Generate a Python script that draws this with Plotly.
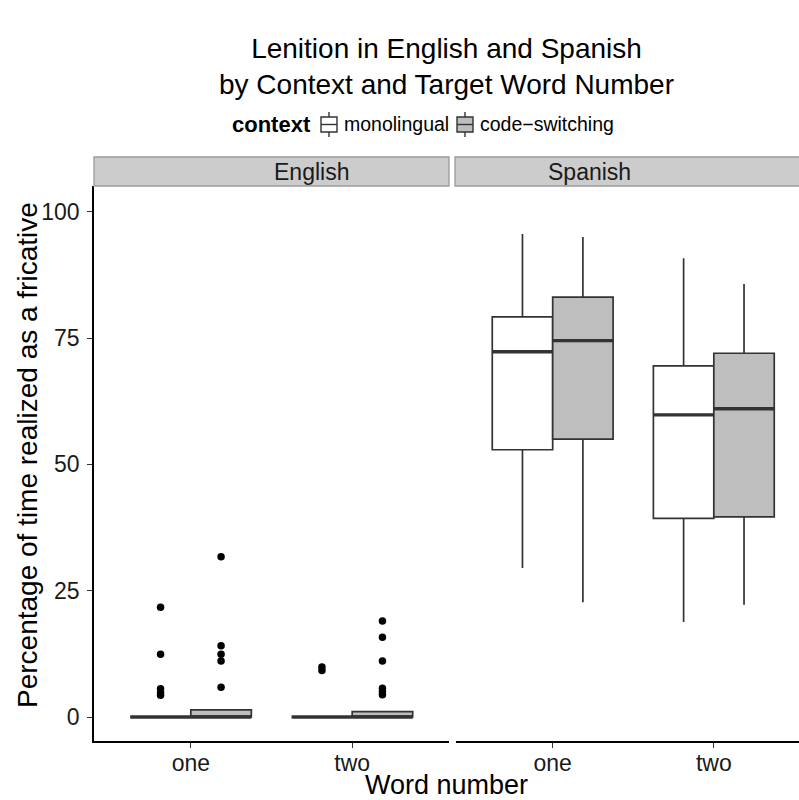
import plotly.graph_objects as go

# ---- data ----
word_numbers = ["one", "two"]
word_pos = [1, 2]
contexts = ["monolingual", "code-switching"]
context_labels = ["monolingual", "code\u2212switching"]
languages = ["English", "Spanish"]

# box stats per language -> context -> [one, two]
q1 = {
    "English": {"monolingual": [0, 0], "code-switching": [0, 0]},
    "Spanish": {"monolingual": [52.9, 39.3], "code-switching": [55.0, 39.6]},
}
median = {
    "English": {"monolingual": [0, 0], "code-switching": [0, 0]},
    "Spanish": {"monolingual": [72.3, 59.8], "code-switching": [74.5, 61.0]},
}
q3 = {
    "English": {"monolingual": [0, 0], "code-switching": [1.4, 1.05]},
    "Spanish": {"monolingual": [79.2, 69.5], "code-switching": [83.1, 72.0]},
}
lowerfence = {
    "English": {"monolingual": [0, 0], "code-switching": [0, 0]},
    "Spanish": {"monolingual": [29.5, 18.8], "code-switching": [22.7, 22.2]},
}
upperfence = {
    "English": {"monolingual": [0, 0], "code-switching": [1.4, 1.05]},
    "Spanish": {"monolingual": [95.6, 90.8], "code-switching": [95.0, 85.7]},
}
outliers = {
    "English": {
        "monolingual": {"one": [21.7, 12.4, 5.6, 4.8, 4.3], "two": [9.9, 9.2]},
        "code-switching": {"one": [31.7, 14.1, 12.4, 11.1, 5.9],
                           "two": [19.0, 15.8, 11.1, 5.7, 5.0, 4.4]},
    },
    "Spanish": {
        "monolingual": {"one": [], "two": []},
        "code-switching": {"one": [], "two": []},
    },
}

fills = {"monolingual": "#FFFFFF", "code-switching": "#BEBEBE"}
dodge = {"monolingual": -0.1875, "code-switching": 0.1875}
box_w = 0.375
line_col = "#333333"
FONT = "Liberation Sans, Arial, sans-serif"

# layout geometry (pixels)
W, H = 799, 800
L, T, B = 94, 186, 59
PW, PH = W - L, H - T - B


def px_x(px):
    return (px - L) / PW


def px_y(py):
    return 1 + (T - py) / PH


fig = go.Figure()
axes = [("x", "y"), ("x2", "y")]
for ci, lang in enumerate(languages):
    xa, ya = axes[ci]
    for ctx in contexts:
        xs = [p + dodge[ctx] for p in word_pos]
        fig.add_trace(go.Box(
            x=xs, xaxis=xa, yaxis=ya,
            q1=q1[lang][ctx], median=median[lang][ctx], q3=q3[lang][ctx],
            lowerfence=lowerfence[lang][ctx], upperfence=upperfence[lang][ctx],
            width=box_w, whiskerwidth=0,
            fillcolor=fills[ctx], line=dict(color=line_col, width=1.7),
            boxpoints=False, name=ctx, showlegend=False, hoverinfo="skip",
        ))
        mx, my = [], []
        for x, m in zip(xs, median[lang][ctx]):
            mx += [x - box_w / 2, x + box_w / 2, None]
            my += [m, m, None]
        fig.add_trace(go.Scatter(
            x=mx, y=my, xaxis=xa, yaxis=ya, mode="lines",
            line=dict(color=line_col, width=3.4),
            showlegend=False, hoverinfo="skip"))
        ox, oy = [], []
        for w, p in zip(word_numbers, word_pos):
            for v in outliers[lang][ctx][w]:
                ox.append(p + dodge[ctx])
                oy.append(v)
        if ox:
            fig.add_trace(go.Scatter(
                x=ox, y=oy, xaxis=xa, yaxis=ya, mode="markers",
                marker=dict(color="black", size=7.5),
                showlegend=False, hoverinfo="skip"))

tickfont = dict(family=FONT, size=23, color="#1a1a1a")
xcommon = dict(
    tickvals=word_pos, ticktext=word_numbers,
    showline=True, linecolor="black", linewidth=1.6,
    ticks="outside", ticklen=5, tickcolor="#333333", tickwidth=1.4,
    showgrid=False, zeroline=False, tickfont=tickfont, anchor="y",
    ticklabelstandoff=-4,
)
eng_end = px_x(449)
spa_start = px_x(456)
spa_span = 2.2 * (W - 456) / (449 - 94.5)

fig.update_layout(
    xaxis=dict(domain=[0, eng_end], range=[0.4, 2.6], **xcommon),
    xaxis2=dict(domain=[spa_start, 1.0], range=[0.4, 0.4 + spa_span], **xcommon),
    yaxis=dict(domain=[0, 1], range=[-4.75, 105.1], tickvals=[0, 25, 50, 75, 100],
               showline=True, linecolor="black", linewidth=1.6,
               ticks="outside", ticklen=5, tickcolor="#333333", tickwidth=1.4,
               showgrid=False, zeroline=False, tickfont=tickfont,
               ticklabelstandoff=3),
)

# facet strips
strip_top = px_y(157)
strips = [(px_x(94), px_x(449)), (px_x(455), px_x(812))]
strip_centers = [px_x(271.5), px_x(632.5)]
for (x0, x1), cx, lang in zip(strips, strip_centers, languages):
    fig.add_shape(type="rect", xref="paper", yref="paper", x0=x0, x1=x1,
                  y0=1.0, y1=strip_top, fillcolor="#CCCCCC",
                  line=dict(color="#9A9A9A", width=1.3), layer="above")
    fig.add_annotation(text=lang, xref="paper", yref="paper",
                       x=cx, y=(1.0 + strip_top) / 2, showarrow=False, yanchor="middle",
                       font=dict(family=FONT, size=23, color="#1a1a1a"))

# titles
fig.add_annotation(text="Lenition in English and Spanish<br>by Context and Target Word Number",
                   xref="paper", yref="paper", x=0.5, y=px_y(66),
                   yanchor="middle", showarrow=False,
                   font=dict(family=FONT, size=28, color="black"))
fig.add_annotation(text="Word number", xref="paper", yref="paper", x=px_x(446),
                   y=px_y(785), yanchor="middle", showarrow=False,
                   font=dict(family=FONT, size=27, color="black"))
fig.add_annotation(text="Percentage of time realized as a fricative", xref="paper",
                   yref="paper", x=px_x(28), y=px_y(455),
                   xanchor="center", yanchor="middle", textangle=-90, showarrow=False,
                   font=dict(family=FONT, size=28, color="black"))

# legend (drawn manually to match ggplot key style)
ly = 124
fig.add_annotation(text="<b>context</b>", xref="paper", yref="paper", x=px_x(230),
                   y=px_y(ly), xanchor="left", yanchor="middle", showarrow=False,
                   font=dict(family=FONT, size=22, color="black"))
key_x = [321, 457]
text_x = [342, 478]
for kx, tx, ctx, lab in zip(key_x, text_x, contexts, context_labels):
    kw = 16
    cx = kx + kw / 2
    fig.add_shape(type="line", xref="paper", yref="paper", x0=px_x(cx), x1=px_x(cx),
                  y0=px_y(112), y1=px_y(137), line=dict(color=line_col, width=1.4))
    fig.add_shape(type="rect", xref="paper", yref="paper", x0=px_x(kx), x1=px_x(kx + kw),
                  y0=px_y(117), y1=px_y(132), fillcolor=fills[ctx],
                  line=dict(color=line_col, width=1.4))
    fig.add_shape(type="line", xref="paper", yref="paper", x0=px_x(kx), x1=px_x(kx + kw),
                  y0=px_y(124.5), y1=px_y(124.5), line=dict(color=line_col, width=1.4))
    fig.add_annotation(text=lab, xref="paper", yref="paper", x=px_x(tx), y=px_y(ly),
                       xanchor="left", yanchor="middle", showarrow=False,
                       font=dict(family=FONT, size=19.5, color="black"))

fig.update_layout(
    width=W, height=H,
    margin=dict(l=L, r=0, t=T, b=B, pad=0),
    paper_bgcolor="white", plot_bgcolor="white",
    showlegend=False,
)

fig.write_html("out.html")
